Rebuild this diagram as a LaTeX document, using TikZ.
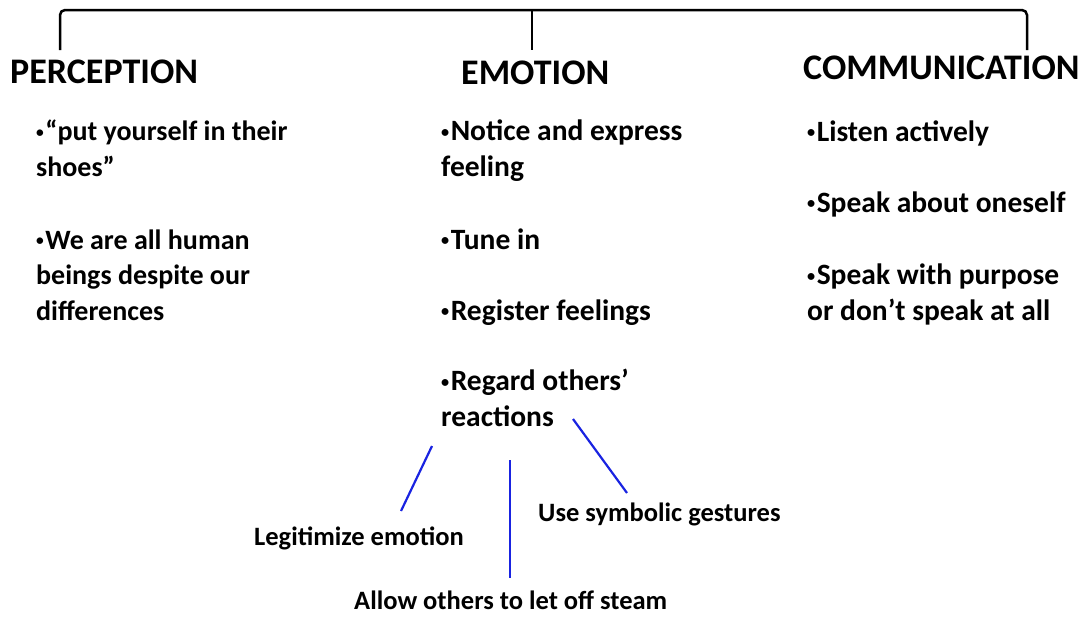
\documentclass[tikz,border=0pt]{standalone}
\usepackage{fontspec}
\setmainfont{Carlito}
\definecolor{linkblue}{RGB}{25,35,225}
\newcommand\bul{\raisebox{3.2pt}{\scalebox{0.55}{•}}\hspace{1.5pt}}
\begin{document}
\begin{tikzpicture}[x=1pt,y=-1pt,
  head/.style={font=\fontsize{36}{42}\selectfont\bfseries, inner sep=0pt, anchor=base west},
  item/.style={font=\fontsize{28}{35.5}\selectfont\bfseries, inner sep=0pt, anchor=base west, align=left},
  itemb/.style={item, font=\fontsize{29.5}{35.5}\selectfont\bfseries},
  sub/.style={font=\fontsize{26.5}{30}\selectfont\bfseries, inner sep=0pt, anchor=base west},
  bracket/.style={line width=2.5pt, draw=black, rounded corners=5pt},
  link/.style={line width=2.2pt, draw=linkblue}]
\useasboundingbox (0,0) rectangle (1083,616);
% bracket
\coordinate (bl) at (60,50);
\coordinate (bm) at (532,50);
\coordinate (br) at (1027,50);
\coordinate (tl) at (60,10);
\coordinate (tm) at (532,10);
\coordinate (tr) at (1027,10);
\draw[bracket] (bl) -- (tl) -- (tr) -- (br);
\draw[bracket] (tm) -- (bm);
% headings
\node[head] (perc) at (10,83) {PERCEPTION};
\node[head] (emo) at (461,84) {EMOTION};
\node[head] (comm) at (803,79) {COMMUNICATION};
% perception items (anchor = baseline of last line)
\node[item] (p1) at (36,176) {\bul“put yourself in their\\shoes”};
\node[item] (p2) at (36,320) {\bul We are all human\\beings despite our\\differences};
% emotion items
\node[itemb] (e1) at (441,176) {\bul Notice and express\\feeling};
\node[itemb] (e2) at (441,249) {\bul Tune in};
\node[itemb] (e3) at (441,320) {\bul Register feelings};
\node[itemb] (e4) at (441,426) {\bul Regard others’\\reactions};
% communication items
\node[itemb] (c1) at (807,141) {\bul Listen actively};
\node[itemb] (c2) at (807,212) {\bul Speak about oneself};
\node[itemb] (c3) at (807,320) {\bul Speak with purpose\\or don’t speak at all};
% sub labels
\node[sub] (s1) at (254,545) {Legitimize emotion};
\node[sub] (s2) at (538,521) {Use symbolic gestures};
\node[sub] (s3) at (354,609) {Allow others to let off steam};
% blue links
\coordinate (a1) at (432,446);
\coordinate (a2) at (401,511);
\coordinate (b1) at (510,460);
\coordinate (b2) at (510,578);
\coordinate (d1) at (573,419);
\coordinate (d2) at (627,493);
\draw[link] (a1) -- (a2);
\draw[link] (b1) -- (b2);
\draw[link] (d1) -- (d2);
\end{tikzpicture}
\end{document}
